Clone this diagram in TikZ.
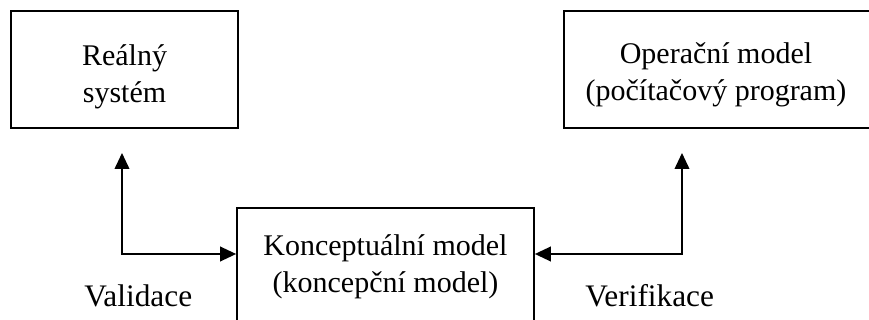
\documentclass[tikz,border=0pt]{standalone}
\usepackage{fontspec}
\setmainfont{Liberation Serif}
\usetikzlibrary{arrows.meta}

\tikzset{
  blok/.style={draw, line width=1.3pt, inner sep=0pt},
  napis/.style={align=center, inner sep=0pt, font=\fontsize{22.5}{28}\selectfont},
  popis/.style={inner sep=0pt, anchor=base west, font=\fontsize{23.5}{28}\selectfont},
  spoj/.style={line width=1.3pt, {Triangle[length=12pt,width=11pt]}-{Triangle[length=12pt,width=11pt]}}
}

\begin{document}
\begin{tikzpicture}[x=0.75pt,y=0.75pt,yscale=-1,xscale=1]
\useasboundingbox (0,0) rectangle (869,320);

        %Shape: Rectangle [id:realny]
        \node[blok, minimum width=170.25pt, minimum height=87.75pt] (realny) at (124.5,69.5) {};
        %Shape: Rectangle [id:operacni]
        \node[blok, minimum width=233pt, minimum height=87.75pt] (operacni) at (719.5,69.5) {};
        %Shape: Rectangle [id:konc]
        \node[blok, minimum width=222.75pt, minimum height=88.5pt] (konc) at (385.5,267) {};

        % Text Node
        \node[napis] (realnytxt) at (124.5,77) {Reálný\\systém};
        % Text Node
        \node[napis] (operacnitxt) at (716,75) {Operační model\\(počítačový program)};
        % Text Node
        \node[napis] (konctxt) at (385.5,267) {Konceptuální model\\(koncepční model)};

        % Arrow ends
        \coordinate (realtip) at (122,153);
        \coordinate (opertip) at (682,153);

        %Straight Lines [id:validace]
        \draw[spoj] (realtip) |- (konc.west |- 0,254);
        %Straight Lines [id:verifikace]
        \draw[spoj] (opertip) |- (konc.east |- 0,254);

        % Text Node
        \node[popis] (val) at (84,306.5) {Validace};
        % Text Node
        \node[popis] (ver) at (585,306.5) {Verifikace};

\end{tikzpicture}
\end{document}
